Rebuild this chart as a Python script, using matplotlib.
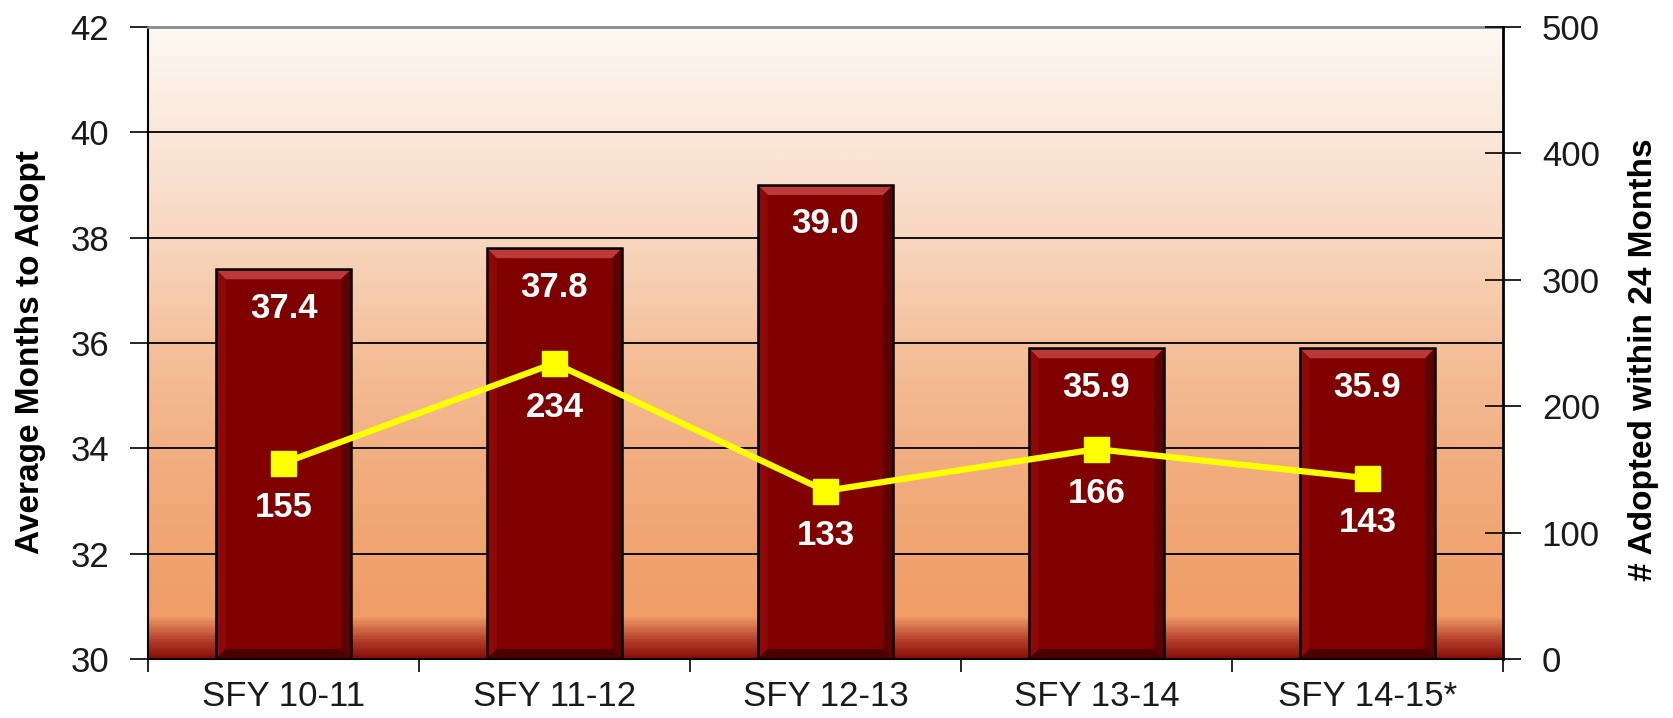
import numpy as np
import matplotlib.pyplot as plt
from matplotlib.colors import LinearSegmentedColormap
from matplotlib.patches import Polygon

plt.rcParams['font.family'] = ['Liberation Sans', 'DejaVu Sans']

# --------------------
# Data
# --------------------
years = ['SFY 10-11', 'SFY 11-12', 'SFY 12-13', 'SFY 13-14', 'SFY 14-15*']
avg_months = [37.4, 37.8, 39.0, 35.9, 35.9]
adopted_24 = [155, 234, 133, 166, 143]

left_ticks = [30, 32, 34, 36, 38, 40, 42]
right_ticks = [0, 100, 200, 300, 400, 500]

# --------------------
# Figure + gradient background
# --------------------
fig = plt.figure(figsize=(16.74, 7.18), dpi=100)
ax = fig.add_axes([0.0884, 0.0822, 0.8094, 0.8802])

bg = LinearSegmentedColormap.from_list('bg', [
    (0.0, '#8a0f08'), (0.03, '#b8452f'), (0.065, '#ef9c66'),
    (0.17, '#f0a470'), (0.33, '#f2af82'), (0.5, '#f5c19c'),
    (0.67, '#f8d7c0'), (0.85, '#fbe9dc'), (1.0, '#fdf8f3')])
grad = np.linspace(0, 1, 600).reshape(-1, 1)
ax.imshow(grad, cmap=bg, aspect='auto', extent=[0, 1, 0, 1], origin='lower',
          transform=ax.transAxes, zorder=-2)

# gridlines
for t in left_ticks[1:-1]:
    ax.axhline(t, color='black', lw=1.3, zorder=1)

# --------------------
# Bars with bevel
# --------------------
x = np.arange(len(years))
bw = 0.5
y0 = left_ticks[0]
ax.bar(x, np.array(avg_months) - y0, bottom=y0, width=bw, color='#800000',
       edgecolor='none', zorder=3)

dx, dy = 0.037, 0.19
for xi, v in zip(x, avg_months):
    x0, x1 = xi - bw / 2, xi + bw / 2
    faces = [
        ([(x0, v), (x1, v), (x1 - dx, v - dy), (x0 + dx, v - dy)], '#bd3838'),
        ([(x0, v), (x0 + dx, v - dy), (x0 + dx, y0 + dy), (x0, y0)], '#8e0808'),
        ([(x1, v), (x1, y0), (x1 - dx, y0 + dy), (x1 - dx, v - dy)], '#5e0000'),
        ([(x0, y0), (x1, y0), (x1 - dx, y0 + dy), (x0 + dx, y0 + dy)], '#4a0000'),
    ]
    for pts, c in faces:
        ax.add_patch(Polygon(pts, closed=True, facecolor=c, edgecolor='none', zorder=4))
    ax.annotate(f'{v:.1f}', (xi, v), xytext=(0, -28), textcoords='offset points',
                ha='center', va='center', color='white', fontsize=25,
                fontweight='bold', zorder=6)

ax.bar(x, np.array(avg_months) - y0, bottom=y0, width=bw, fill=False,
       edgecolor='black', linewidth=1.8, zorder=5)

ax.set_xlim(-0.5, len(years) - 0.5)
ax.set_ylim(left_ticks[0], left_ticks[-1])
ax.set_yticks(left_ticks)
ax.set_xticks(np.arange(-0.5, len(years), 1))
ax.set_xticklabels([])
ax.set_xticks(x, minor=True)
ax.set_xticklabels(years, minor=True)
ax.tick_params(axis='x', which='major', direction='out', length=9, width=1.2)
ax.tick_params(axis='x', which='minor', length=0, pad=15, labelsize=25,
               labelcolor='#1a1a1a')
ax.tick_params(axis='y', direction='out', length=13, width=1.2, pad=15,
               labelsize=25, labelcolor='#1a1a1a')
ax.spines['top'].set_color('#8a8a8a')
ax.spines['top'].set_linewidth(2)
ax.spines['left'].set_linewidth(1.5)
ax.spines['bottom'].set_linewidth(1.5)
ax.spines['right'].set_visible(False)

# --------------------
# Line on right axis
# --------------------
ax2 = ax.twinx()
ax2.set_ylim(right_ticks[0], right_ticks[-1])
ax2.set_yticks(right_ticks)
ax2.tick_params(axis='y', direction='inout', length=26, width=1.2, pad=15,
                labelsize=25, labelcolor='#1a1a1a')
for s in ['left', 'top', 'bottom']:
    ax2.spines[s].set_visible(False)
ax2.spines['right'].set_linewidth(2)

ax2.plot(x, adopted_24, color='#ffff00', lw=4.5, marker='s', markersize=18,
         zorder=5)
for xi, n in zip(x, adopted_24):
    ax2.annotate(f'{n}', (xi, n), xytext=(0, -32), textcoords='offset points',
                 ha='center', va='center', color='white', fontsize=25,
                 fontweight='bold', zorder=6)

fig.text(0.0185, 0.51, 'Average Months to Adopt', rotation=90, ha='center',
         va='center', fontsize=24, fontweight='bold')
fig.text(0.982, 0.499, '# Adopted within 24 Months', rotation=90, ha='center',
         va='center', fontsize=24, fontweight='bold')

fig.savefig('out.png', dpi=100)
